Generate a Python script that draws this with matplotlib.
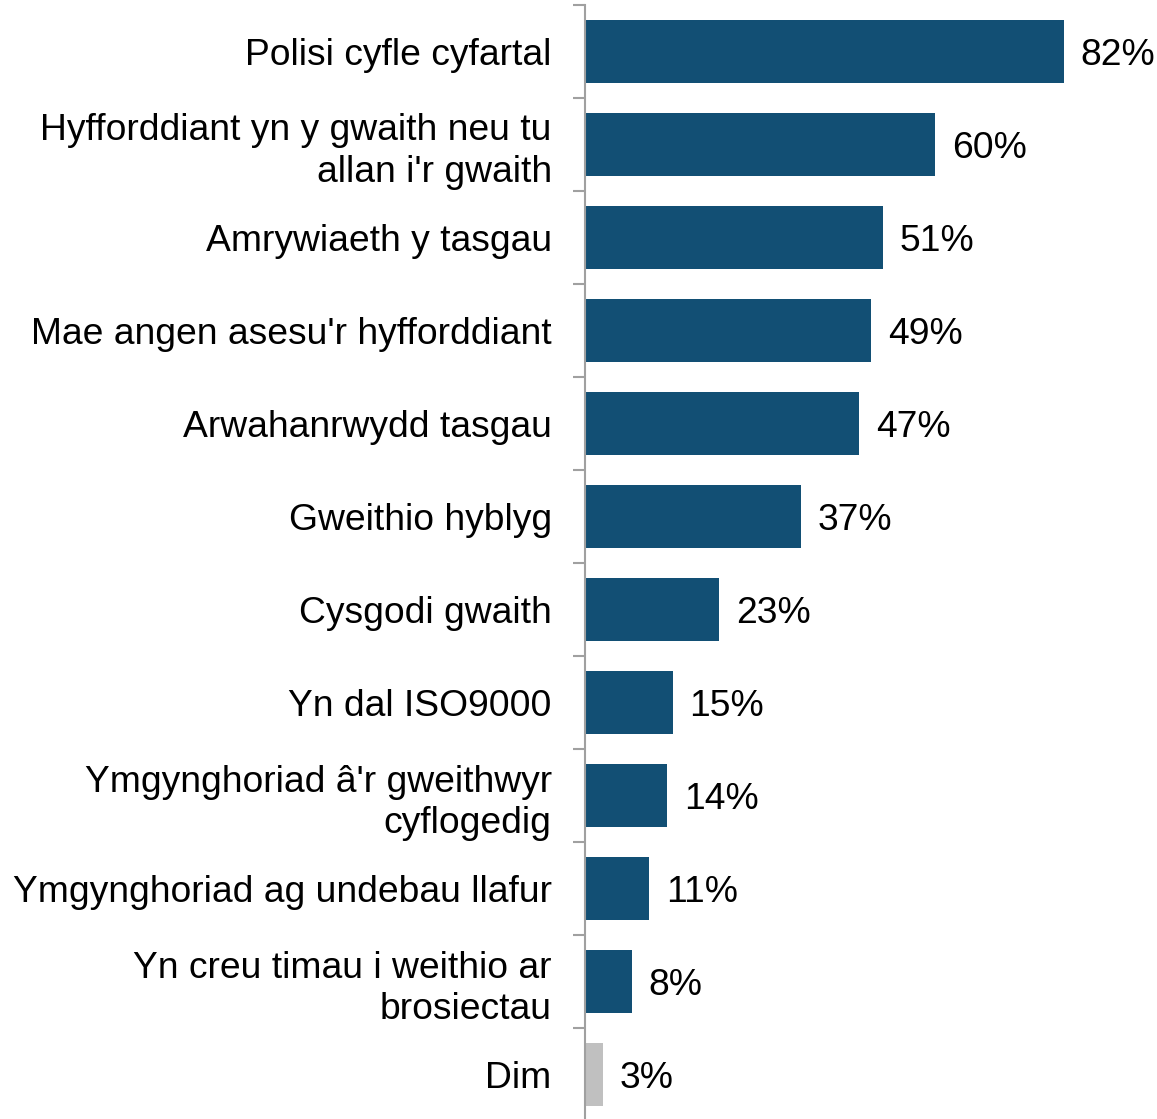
import numpy as np
import matplotlib.pyplot as plt

# === data ===
labels = [
    "Polisi cyfle cyfartal",
    "Hyfforddiant yn y gwaith neu tu\nallan i'r gwaith",
    "Amrywiaeth y tasgau",
    "Mae angen asesu'r hyfforddiant",
    "Arwahanrwydd tasgau",
    "Gweithio hyblyg",
    "Cysgodi gwaith",
    "Yn dal ISO9000",
    "Ymgynghoriad â'r gweithwyr\ncyflogedig",
    "Ymgynghoriad ag undebau llafur",
    "Yn creu timau i weithio ar\nbrosiectau",
    "Dim",
]
values = [82, 60, 51, 49, 47, 37, 23, 15, 14, 11, 8, 3]
is_none = [False] * 11 + [True]

BLUE = "#124F74"
GREY = "#C0C0C0"
FS = 26.8

plt.rcParams['font.family'] = ['Liberation Sans', 'DejaVu Sans']

fig = plt.figure(figsize=(11.57, 11.19), dpi=100)
ax = fig.add_axes([585 / 1157, -2 / 1119, 1 - 585 / 1157, 1116 / 1119])

n = len(labels)
y = np.arange(n)
colors = [GREY if g else BLUE for g in is_none]
ax.barh(y, values, height=0.67, color=colors, zorder=2)

for yi, v in zip(y, values):
    ax.text(v + 2.9, yi, f"{v}%", va="center_baseline", ha="left", fontsize=FS, color="black")

ax.set_ylim(n - 0.5, -0.5)
ax.set_xlim(0, 98)

# category labels, ticks on the boundaries
ax.set_yticks(y)
ax.set_yticklabels(labels, fontsize=FS, linespacing=1.24)
ax.tick_params(axis="y", which="major", length=0, pad=24)
ax.set_yticks(np.arange(n + 1) - 0.5, minor=True)
ax.tick_params(axis="y", which="minor", length=9, width=1.5, color="#A0A0A0")
for t in ax.get_yticklabels():
    t.set_horizontalalignment("right")

ax.set_xticks([])
for s in ["top", "right", "bottom"]:
    ax.spines[s].set_visible(False)
ax.spines["left"].set_color("#A0A0A0")
ax.spines["left"].set_linewidth(1.5)

fig.savefig("out.png", dpi=100)
